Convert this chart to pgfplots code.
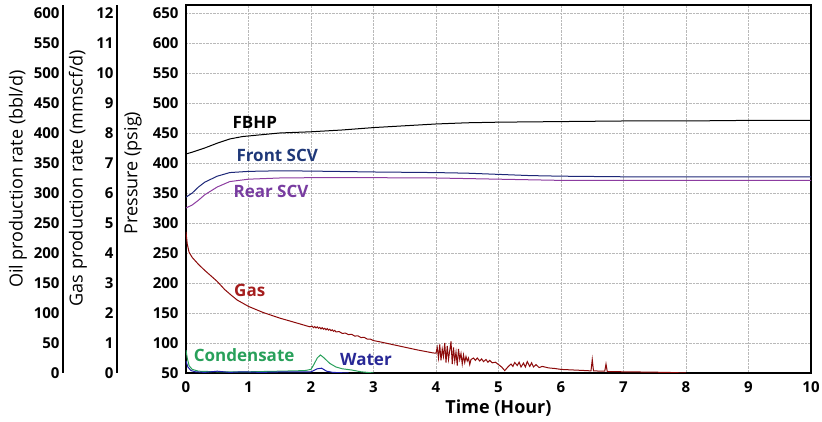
\documentclass[border=0pt]{standalone}
\usepackage{fontspec}
\setmainfont{Open Sans}
\usepackage{pgfplots}
\pgfplotsset{compat=1.18}
\definecolor{frontscv}{RGB}{30,40,120}
\definecolor{rearscv}{RGB}{140,60,160}
\definecolor{gasred}{RGB}{140,10,10}
\definecolor{cond}{RGB}{40,160,90}
\definecolor{water}{RGB}{30,30,170}
\definecolor{fronttxt}{RGB}{31,56,120}
\definecolor{reartxt}{RGB}{120,60,160}
\definecolor{gastxt}{RGB}{165,30,30}
\definecolor{watertxt}{RGB}{40,40,150}

\pgfplotsset{
  base/.style={at={(0,0)}, anchor=south west, scale only axis,
    width=625pt, height=368pt, xmin=0, xmax=10,
    major tick length=0pt,
    /pgf/number format/assume math mode=true,
    tick label style={font=\fontsize{15}{18}\selectfont\bfseries}},
  sidey/.style={scale only axis, anchor=south west, width=0.1pt, height=368pt,
    xmin=0, xmax=1, axis x line=none, axis y line*=left,
    major tick length=0pt,
    axis line style={line width=2.4pt},
    /pgf/number format/assume math mode=true,
    tick label style={font=\fontsize{15}{18}\selectfont\bfseries}},
}
\tikzset{lbl/.style={font=\fontsize{17}{20}\selectfont\bfseries},
  ttl/.style={font=\fontsize{18}{20}\selectfont, rotate=90, anchor=center}}

\begin{document}
\begin{tikzpicture}
\path[use as bounding box] (-186pt,-49pt) rectangle (636pt,373pt);

% main pressure axis
\begin{axis}[base,
  ymin=50, ymax=663.3,
  xtick={0,...,10}, ytick={50,100,...,650},
  grid=major, grid style={densely dotted, gray!55, line width=0.7pt},
  axis line style={line width=1.8pt},
  xticklabel style={anchor=center, yshift=-14pt},
  yticklabel style={xshift=-4pt},
  xlabel={Time (Hour)},
  every axis x label/.style={at={([yshift=-35pt]rel axis cs:0.5,0)}, anchor=center,
    font=\fontsize{18}{20}\selectfont\bfseries},
]
\addplot[black, line width=1pt] coordinates {
  (0,415) (0.1,418) (0.3,425) (0.5,433) (0.7,440) (0.9,444) (1.2,447) (1.5,450)
  (2,452) (2.5,455) (3,459) (3.5,462) (4,465) (4.5,467) (5,468) (6,469) (7,470)
  (8,470) (9,471) (10,471)};
\addplot[frontscv, line width=1pt] coordinates {
  (0,343) (0.1,350) (0.2,360) (0.3,368) (0.5,378) (0.7,384) (1,386) (1.5,387)
  (2,386.5) (3,385) (4,384) (4.5,383) (5,381) (5.5,379) (6,378) (7,377) (8,377)
  (9,377) (10,377)};
\addplot[rearscv, line width=1pt] coordinates {
  (0,325) (0.1,330) (0.2,338) (0.3,347) (0.5,360) (0.7,369) (1,373) (1.5,375)
  (2,375.5) (3,375.5) (4,375) (4.5,374) (5,373) (5.5,372) (6,371) (7,371) (8,371)
  (10,371)};
\node[lbl, black] at (axis cs:1.10,467) {FBHP};
\node[lbl, fronttxt] at (axis cs:1.46,412) {Front SCV};
\node[lbl, reartxt] at (axis cs:1.36,352) {Rear SCV};
\node[lbl, gastxt] at (axis cs:1.02,188) {Gas};
\node[lbl, cond] at (axis cs:0.93,80) {Condensate};
\node[lbl, watertxt] at (axis cs:2.88,73) {Water};
\end{axis}

% oil rate series (bbl/d)
\begin{axis}[base, hide axis, ymin=0, ymax=613.3]
\addplot[cond, line width=1pt] coordinates {
  (0,38) (0.02,25) (0.05,12) (0.1,6) (0.2,3) (0.5,2) (1.0,2) (1.5,3) (1.9,4)
  (2.0,6) (2.05,15) (2.1,25) (2.15,30) (2.2,26) (2.3,16) (2.4,10) (2.5,7)
  (2.65,5) (2.8,2) (3,0)};
\addplot[water, line width=1pt] coordinates {
  (0,20) (0.03,10) (0.08,4) (0.15,2) (0.3,1) (0.5,3) (0.7,1) (0.9,2) (1.2,1)
  (1.6,2) (2.0,2) (2.1,7) (2.17,8) (2.25,3) (2.35,1) (2.6,0)};
\end{axis}

% gas rate series (mmscf/d)
\begin{axis}[base, hide axis, ymin=0, ymax=12.267]
\addplot[gasred, line width=1pt] coordinates {
  (0,4.70) (0.02,4.30) (0.05,4.02) (0.1,3.85) (0.2,3.62) (0.3,3.42) (0.42,3.2)
  (0.5,3.05) (0.62,2.78) (0.72,2.6) (0.82,2.43) (1.0,2.22) (1.23,2.02) (1.5,1.83)
  (1.75,1.68) (1.98,1.54)
  (2.02,1.56) (2.04,1.51) (2.06,1.55) (2.08,1.50) (2.1,1.54) (2.12,1.49) (2.14,1.52)
  (2.16,1.47) (2.18,1.51) (2.2,1.46) (2.22,1.49) (2.24,1.44) (2.26,1.48) (2.28,1.43)
  (2.3,1.46) (2.32,1.41) (2.34,1.44) (2.36,1.39) (2.38,1.42) (2.4,1.37) (2.45,1.38)
  (2.5,1.32) (2.55,1.33) (2.6,1.28) (2.65,1.29) (2.7,1.23) (2.75,1.24) (2.8,1.18)
  (2.85,1.19) (2.9,1.13) (2.95,1.13) (3.0,1.08) (3.1,1.04) (3.3,0.95) (3.5,0.86)
  (3.7,0.77) (3.95,0.67)
  (4.00,0.66) (4.02,0.85) (4.04,0.5) (4.06,0.95) (4.08,0.42) (4.10,0.8) (4.12,0.55)
  (4.14,1.0) (4.16,0.35) (4.18,0.9) (4.20,0.45) (4.22,0.75) (4.24,1.05) (4.26,0.3)
  (4.28,0.85) (4.30,0.4) (4.32,0.7) (4.34,0.25) (4.36,0.8) (4.38,0.45) (4.40,0.65)
  (4.42,0.3) (4.44,0.6) (4.46,0.35) (4.48,0.55) (4.50,0.4) (4.52,0.5) (4.54,0.28)
  (4.56,0.45) (4.6,0.5) (4.63,0.42) (4.66,0.5) (4.7,0.4) (4.73,0.47) (4.76,0.38)
  (4.8,0.45) (4.83,0.36) (4.86,0.42) (4.9,0.34) (4.95,0.36) (5.0,0.28) (5.05,0.2)
  (5.1,0.08) (5.15,0.2) (5.2,0.3) (5.23,0.22) (5.26,0.35) (5.3,0.25) (5.33,0.36)
  (5.36,0.2) (5.4,0.33) (5.43,0.2) (5.46,0.38) (5.5,0.22) (5.53,0.34) (5.56,0.2)
  (5.6,0.28) (5.65,0.18) (5.7,0.22) (5.8,0.17) (5.9,0.15) (6.0,0.12) (6.2,0.1)
  (6.4,0.08) (6.48,0.07) (6.5,0.45) (6.52,0.07) (6.7,0.06) (6.72,0.3) (6.74,0.05)
  (7.0,0.04) (7.4,0.03) (7.7,0.02) (8.0,0.0)};
\end{axis}

% gas rate scale
\begin{axis}[sidey, at={(-69pt,0)}, ymin=0, ymax=12.267, ytick={0,...,12}]
\end{axis}

% oil rate scale
\begin{axis}[sidey, at={(-123pt,0)}, ymin=0, ymax=613.3, ytick={0,50,...,600}]
\end{axis}

% axis titles
\node[ttl] at (-168pt,194pt) {Oil production rate (bbl/d)};
\node[ttl] at (-108pt,195pt) {Gas production rate (mmscf/d)};
\node[ttl] at (-53pt,200pt) {Pressure (psig)};
\end{tikzpicture}
\end{document}
